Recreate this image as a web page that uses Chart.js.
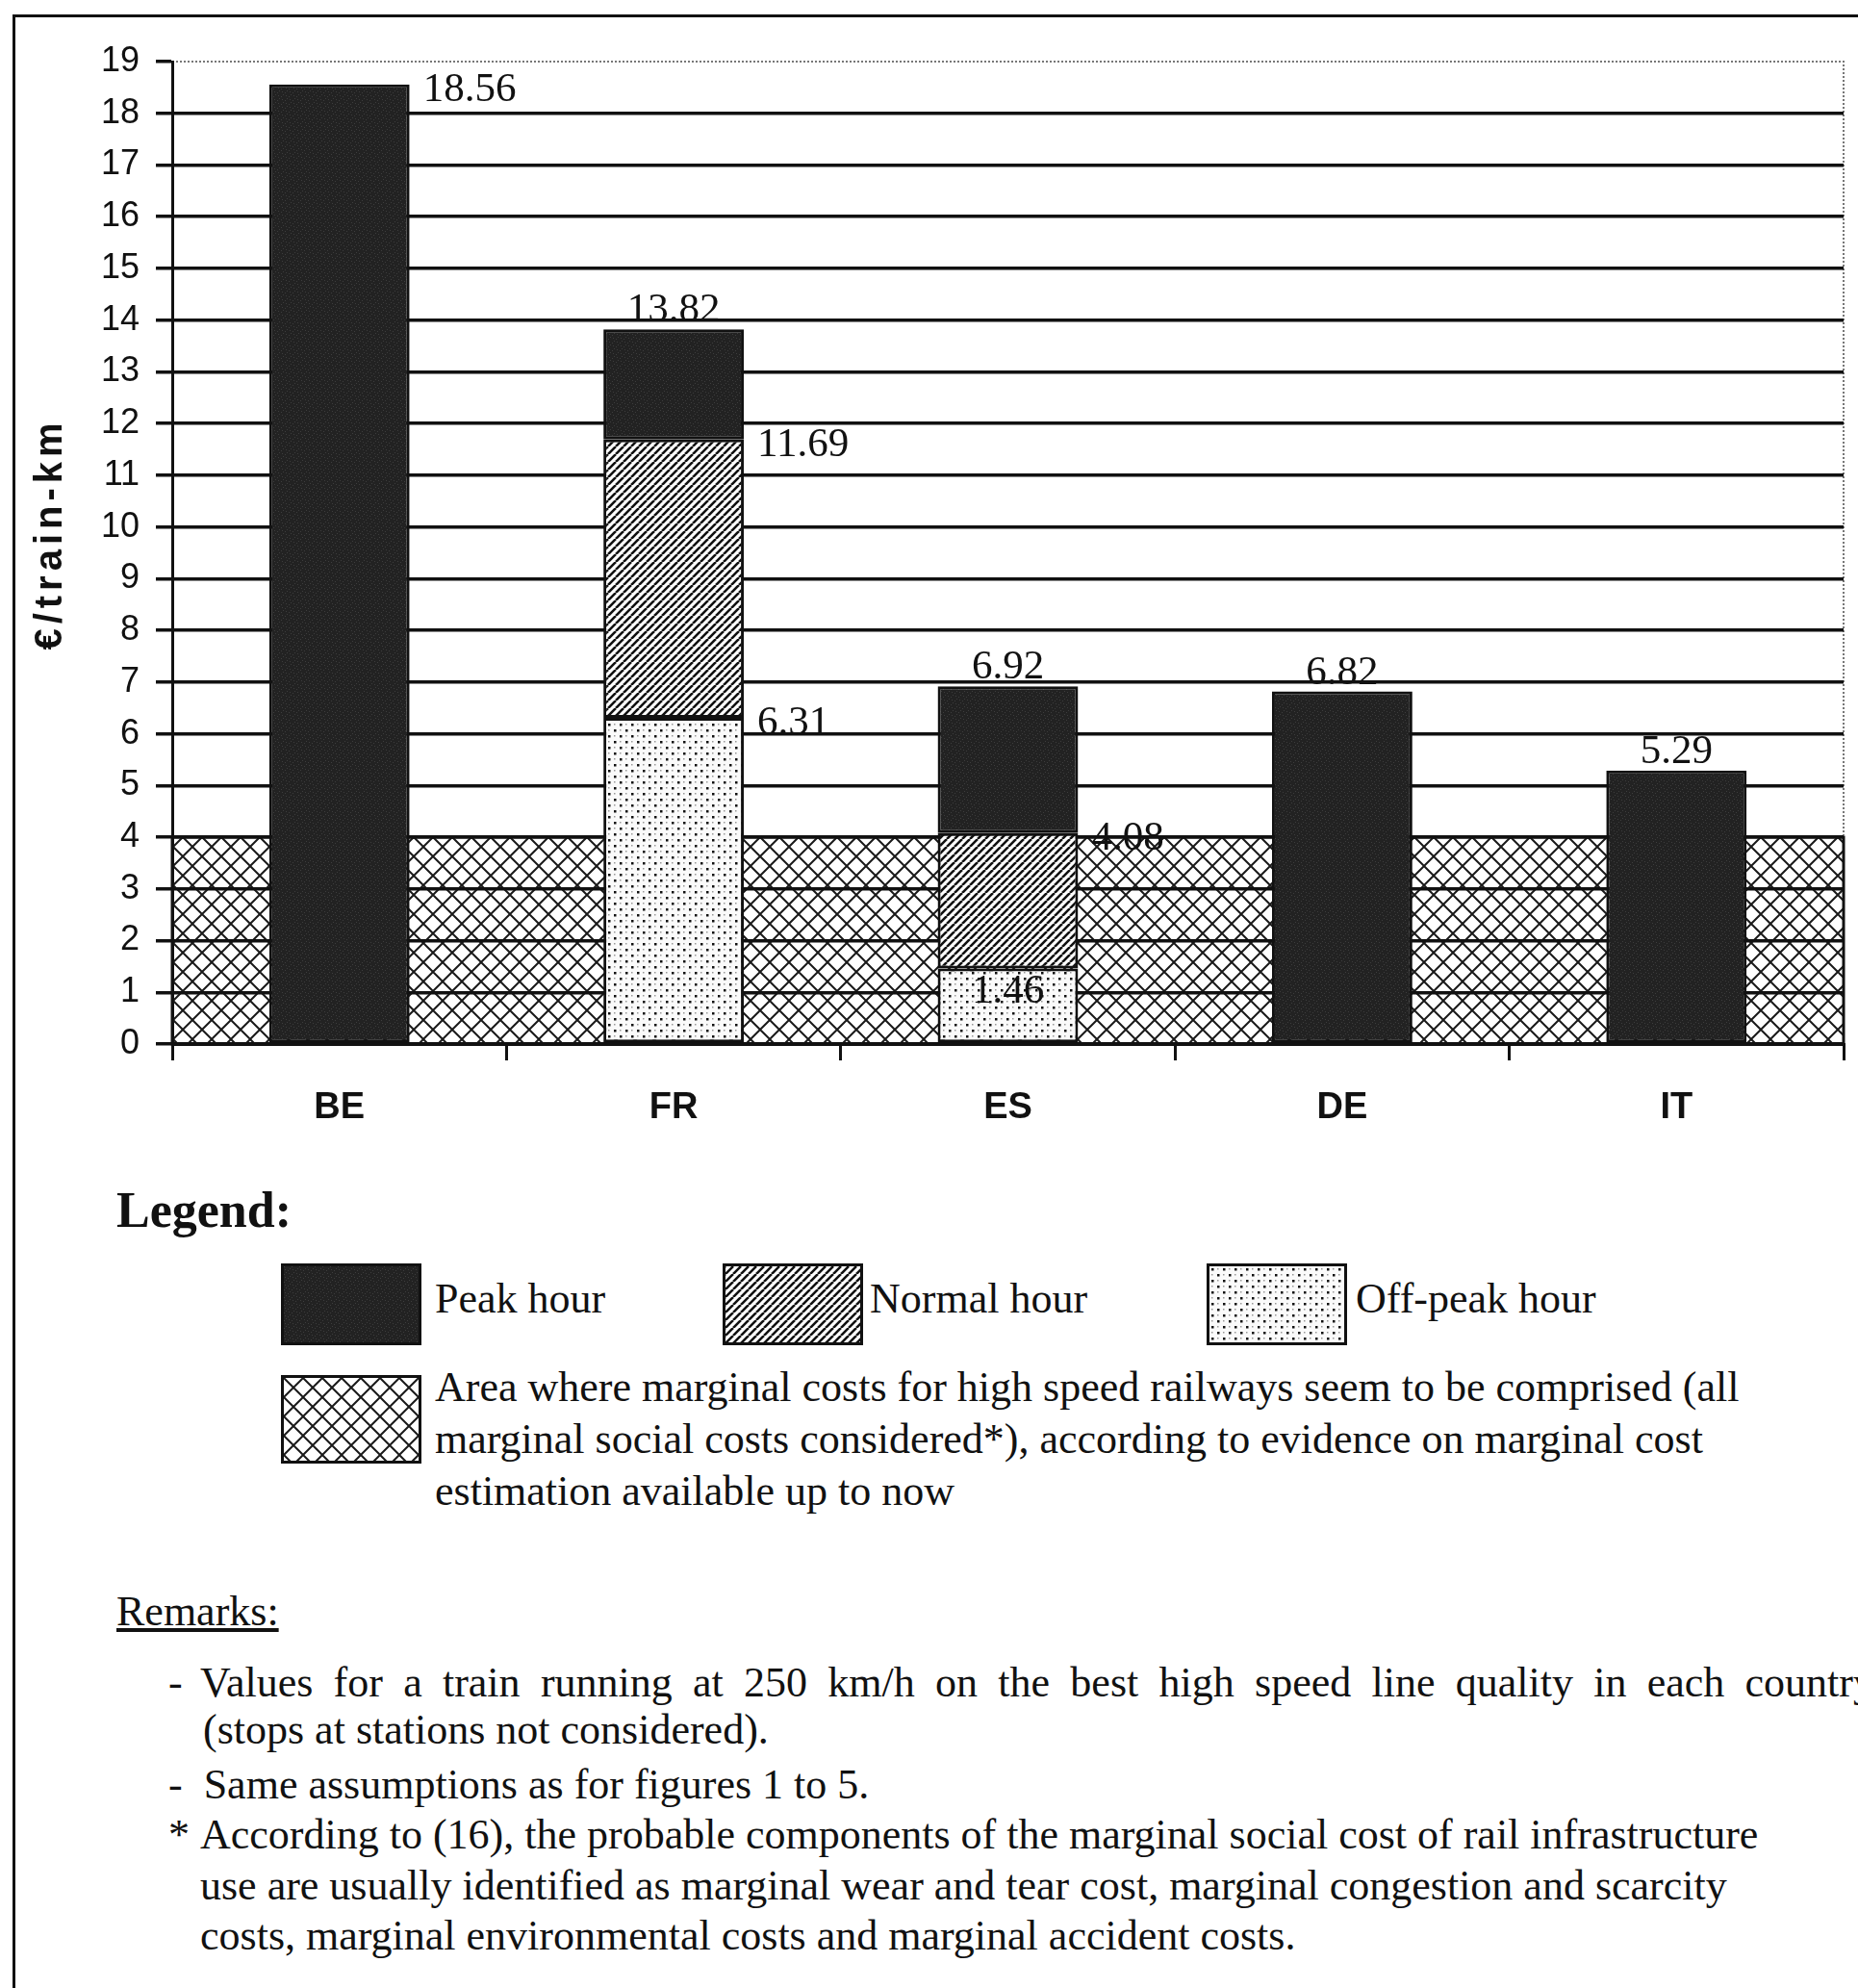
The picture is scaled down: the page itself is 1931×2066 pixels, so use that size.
<!DOCTYPE html>
<html>
<head>
<meta charset="utf-8">
<title>Marginal cost per train-km</title>
<script src="https://cdn.jsdelivr.net/npm/chart.js@4.4.1/dist/chart.umd.min.js"></script>
<style>
  html, body { margin: 0; padding: 0; background: #fff; }
  body { width: 1931px; height: 2066px; overflow: hidden; position: relative; color: #111;
         font-family: "Liberation Serif", "DejaVu Serif", serif; }
  #frame { position: absolute; left: 13px; top: 15px; width: 2000px; height: 2200px; border: 3px solid #111; }
  #chartBox { position: absolute; left: 0; top: 0; width: 1931px; height: 1200px; }
  .abs { position: absolute; white-space: nowrap; }
  .sw { position: absolute; border: 3px solid #111; box-sizing: border-box; }
  .t44 { font-size: 44px; line-height: 54px; }
</style>
</head>
<body>
<div id="frame"></div>
<div id="chartBox"><canvas id="costs"></canvas></div>

<div class="abs" style="left:121px; top:1228px; font-size:52px; font-weight:bold;">Legend:</div>

<canvas class="sw" id="swPeak" width="140" height="79" style="left:292px; top:1313px;"></canvas>
<div class="abs t44" style="left:452px; top:1323px;">Peak hour</div>
<canvas class="sw" id="swNormal" width="140" height="79" style="left:751px; top:1313px;"></canvas>
<div class="abs t44" style="left:904px; top:1323px;">Normal hour</div>
<canvas class="sw" id="swOff" width="140" height="79" style="left:1254px; top:1313px;"></canvas>
<div class="abs t44" style="left:1409px; top:1323px;">Off-peak hour</div>

<canvas class="sw" id="swArea" width="140" height="86" style="left:292px; top:1429px;"></canvas>
<div class="abs t44" style="left:452px; top:1415px;">
  Area where marginal costs for high speed railways seem to be comprised (all<br>
  marginal social costs considered*), according to evidence on marginal cost<br>
  estimation available up to now
</div>

<div class="abs t44" style="left:121px; top:1648px; text-decoration:underline;">Remarks:</div>
<div class="abs t44" style="left:175px; top:1722px;">-</div>
<div class="abs t44" style="left:208px; top:1722px; width:1740px; text-align:justify; text-align-last:justify;">Values for a train running at 250 km/h on the best high speed line quality in each country</div>
<div class="abs t44" style="left:211px; top:1771px;">(stops at stations not considered).</div>
<div class="abs t44" style="left:175px; top:1828px;">-&nbsp; Same assumptions as for figures 1 to 5.</div>
<div class="abs t44" style="left:175px; top:1880px;">*</div>
<div class="abs t44" style="left:208px; top:1880px;">According to (16), the probable components of the marginal social cost of rail infrastructure</div>
<div class="abs t44" style="left:208px; top:1933px;">use are usually identified as marginal wear and tear cost, marginal congestion and scarcity</div>
<div class="abs t44" style="left:208px; top:1985px;">costs, marginal environmental costs and marginal accident costs.</div>

<script>
// countries on the x axis
const countries = ['BE', 'FR', 'ES', 'DE', 'IT'];
// top of each segment, €/train-km
const peakValues = [18.56, 13.82, 6.92, 6.82, 5.29];
const normalValues = [null, 11.69, 4.08, null, null];
const offPeakValues = [null, 6.31, 1.46, null, null];
// band where marginal costs for high speed seem to lie
const areaBottom = 0;
const areaTop = 4;
// where each value label sits
const peakLabelSide = ['right', 'above', 'above', 'above', 'above'];
const normalLabelSide = [null, 'right', 'right', null, null];
const offPeakLabelSide = [null, 'right', 'inside', null, null];

function makePattern(kind, ctx) {
    const c = document.createElement('canvas');
    const g = c.getContext('2d');
    if (kind === 'peak') {
        c.width = c.height = 8;
        g.fillStyle = '#222';
        g.fillRect(0, 0, 8, 8);
        g.fillStyle = '#3d3d3d';
        [[0,0],[4,4],[2,6],[6,2],[1,3],[5,7]].forEach(p => g.fillRect(p[0], p[1], 1, 1));
    } else if (kind === 'normal') {
        c.width = c.height = 8;
        g.fillStyle = '#fff';
        g.fillRect(0, 0, 8, 8);
        g.strokeStyle = '#111';
        g.lineWidth = 2.6;
        g.beginPath();
        for (let k = -1; k <= 1; k++) {
            g.moveTo(k * 8, 8);
            g.lineTo(k * 8 + 8, 0);
        }
        g.stroke();
    } else if (kind === 'off') {
        c.width = c.height = 12;
        g.fillStyle = '#fafafa';
        g.fillRect(0, 0, 12, 12);
        g.fillStyle = '#111';
        g.fillRect(2, 2, 2.5, 2.5);
        g.fillRect(8, 8, 2.5, 2.5);
        g.fillStyle = '#999';
        g.fillRect(8, 2, 1.5, 1.5);
        g.fillRect(2, 8, 1.5, 1.5);
    } else {
        c.width = c.height = 20;
        g.fillStyle = '#fff';
        g.fillRect(0, 0, 20, 20);
        g.strokeStyle = '#1a1a1a';
        g.lineWidth = 2;
        g.beginPath();
        g.moveTo(0, 0); g.lineTo(20, 20);
        g.moveTo(20, 0); g.lineTo(0, 20);
        g.stroke();
    }
    return ctx.createPattern(c, 'repeat');
}

const context = document.getElementById('costs').getContext('2d');

const peakBars = peakValues.map((v, i) => [normalValues[i] ?? 0, v]);
const normalBars = normalValues.map((v, i) => v === null ? null : [offPeakValues[i] ?? 0, v]);
const offPeakBars = offPeakValues.map(v => v === null ? null : [0, v]);

const barStyle = {
    grouped: false,
    categoryPercentage: 1,
    barPercentage: 0.42,
    borderColor: '#111',
    borderWidth: 3,
    borderSkipped: false,
};

// crosshatched band, drawn under the gridlines
const areaBand = {
    id: 'areaBand',
    beforeDraw(chart) {
        const {ctx, chartArea, scales} = chart;
        const yTop = scales.y.getPixelForValue(areaTop);
        const yBot = scales.y.getPixelForValue(areaBottom);
        ctx.save();
        ctx.fillStyle = makePattern('area', ctx);
        ctx.fillRect(chartArea.left, yTop, chartArea.right - chartArea.left, yBot - yTop);
        ctx.strokeStyle = '#111';
        ctx.lineWidth = 3;
        ctx.strokeRect(chartArea.left, yTop, chartArea.right - chartArea.left, yBot - yTop);
        // dotted plot border above the band
        ctx.strokeStyle = '#777';
        ctx.lineWidth = 2;
        ctx.setLineDash([2, 2]);
        ctx.beginPath();
        ctx.moveTo(chartArea.left, chartArea.top);
        ctx.lineTo(chartArea.right, chartArea.top);
        ctx.lineTo(chartArea.right, yTop);
        ctx.stroke();
        ctx.restore();
    }
};

const valueLabels = {
    id: 'valueLabels',
    afterDatasetsDraw(chart) {
        const ctx = chart.ctx;
        ctx.save();
        ctx.font = '43px "Liberation Serif"';
        ctx.fillStyle = '#111';
        chart.data.datasets.forEach((ds, di) => {
            const meta = chart.getDatasetMeta(di);
            meta.data.forEach((bar, i) => {
                const side = ds.labelSide[i];
                const raw = ds.data[i];
                if (!side || raw === null) return;
                const text = raw[1].toFixed(2);
                if (side === 'right') {
                    ctx.textAlign = 'left';
                    ctx.textBaseline = 'middle';
                    ctx.fillText(text, bar.x + bar.width / 2 + 14, bar.y + 6);
                } else if (side === 'above') {
                    ctx.textAlign = 'center';
                    ctx.textBaseline = 'alphabetic';
                    ctx.fillText(text, bar.x, bar.y - 8);
                } else {
                    ctx.textAlign = 'center';
                    ctx.textBaseline = 'middle';
                    ctx.fillText(text, bar.x, bar.y + 24);
                }
            });
        });
        // y axis title
        ctx.translate(53, 555);
        ctx.rotate(-Math.PI / 2);
        ctx.font = 'bold 40px "Liberation Sans"';
        ctx.letterSpacing = '5px';
        ctx.textAlign = 'center';
        ctx.textBaseline = 'middle';
        ctx.fillText('€/train-km', 0, 0);
        ctx.restore();
    }
};

const costs = new Chart(context, {
    type: 'bar',
    data: {
        labels: countries,
        datasets: [
            Object.assign({ label: 'Off-peak hour', data: offPeakBars, labelSide: offPeakLabelSide,
                backgroundColor: makePattern('off', context) }, barStyle),
            Object.assign({ label: 'Normal hour', data: normalBars, labelSide: normalLabelSide,
                backgroundColor: makePattern('normal', context) }, barStyle),
            Object.assign({ label: 'Peak hour', data: peakBars, labelSide: peakLabelSide,
                backgroundColor: makePattern('peak', context) }, barStyle),
        ],
    },
    options: {
        responsive: true,
        maintainAspectRatio: false,
        animation: false,
        layout: { padding: { top: 64, right: 15, left: 0, bottom: 0 } },
        plugins: { legend: { display: false }, tooltip: { enabled: false } },
        scales: {
            x: {
                afterFit(scale) { scale.height = 115; },
                grid: { offset: true, drawOnChartArea: false, drawTicks: true, tickLength: 17,
                        color: '#111', lineWidth: 3 },
                border: { color: '#111', width: 3 },
                ticks: { color: '#111', padding: 27,
                         font: { family: 'Liberation Sans', size: 38, weight: 'bold' } },
            },
            y: {
                min: 0,
                max: 19,
                afterFit(scale) { scale.width = 179; },
                grid: {
                    color: c => c.tick && c.tick.value === 19 ? 'rgba(0,0,0,0)' : '#111',
                    tickColor: '#111',
                    lineWidth: 3.5,
                    tickLength: 17,
                },
                border: { color: '#111', width: 3 },
                ticks: { stepSize: 1, color: '#111', padding: 17,
                         font: { family: 'Liberation Sans', size: 36 } },
            },
        },
    },
    plugins: [areaBand, valueLabels],
});

// legend swatches use the same fills as the bars
[['swPeak', 'peak'], ['swNormal', 'normal'], ['swOff', 'off'], ['swArea', 'area']].forEach(([id, kind]) => {
    const cv = document.getElementById(id);
    const g = cv.getContext('2d');
    g.fillStyle = makePattern(kind, g);
    g.fillRect(0, 0, cv.width, cv.height);
});
</script>
</body>
</html>
